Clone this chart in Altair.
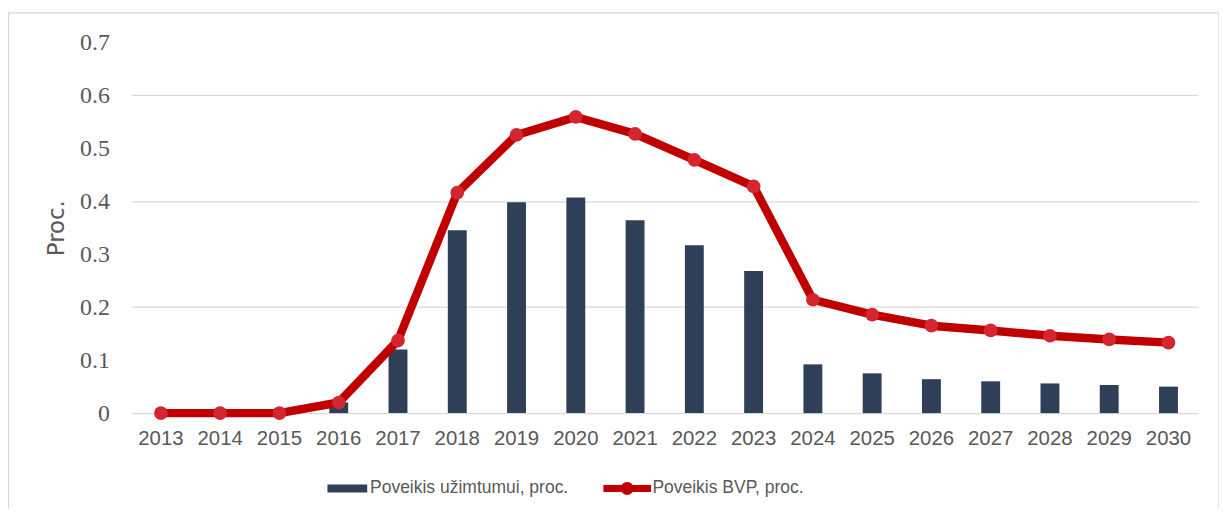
import altair as alt
import pandas as pd

years = [str(y) for y in range(2013, 2031)]
employment = [0, 0, 0, 0.02, 0.12, 0.345, 0.398, 0.407, 0.364, 0.317, 0.268,
              0.092, 0.075, 0.064, 0.06, 0.056, 0.053, 0.05]
gdp = [0, 0, 0, 0.02, 0.137, 0.416, 0.525, 0.559, 0.527, 0.478, 0.428,
       0.214, 0.186, 0.165, 0.156, 0.146, 0.139, 0.133]
y_ticks = [0, 0.1, 0.2, 0.3, 0.4, 0.5, 0.6, 0.7]

lab_bar = "Poveikis užimtumui, proc."
lab_line = "Poveikis BVP, proc."

df = pd.DataFrame({"year": years, "emp": employment, "gdp": gdp,
                   "s1": lab_bar, "s2": lab_line})

BAR = "#2E3F57"
LINE = "#C00000"
DOT = "#D42630"
GRID = "#D9D9D9"
TXT = "#595959"
SANS = "Liberation Sans, sans-serif"

x = alt.X("year:N", sort=years, title=None,
          scale=alt.Scale(paddingInner=0, paddingOuter=0),
          axis=alt.Axis(labelAngle=0, ticks=False, labelFont=SANS, labelFontSize=20.5,
                        labelColor=TXT, labelPadding=16, domainColor=GRID, domainWidth=1.3,
                        grid=False))
yscale = alt.Scale(domain=[0, 0.7], nice=False)
yaxis = alt.Axis(values=y_ticks, labelExpr="datum.value == 0 ? '0' : format(datum.value, '.1f')",
                 labelFont="Liberation Serif", labelFontSize=24, labelColor=TXT,
                 ticks=False, domain=False, labelPadding=22,
                 gridColor=GRID, gridWidth=1.3,
                 gridOpacity={"condition": {"test": "round(datum.value*10) % 2 == 0 && datum.value > 0", "value": 1}, "value": 0},
                 title="Proc.", titleFont="DejaVu Sans", titleFontSize=23, titleFontWeight="normal",
                 titleColor=TXT, titlePadding=11)

bar_path = "M-4,-0.8H4V0.8H-4Z"
line_path = ("M-4.8,-0.7H4.8V0.7H-4.8Z "
             "M-1.3,0A1.3,1.3 0 1,1 1.3,0A1.3,1.3 0 1,1 -1.3,0Z")

bars = alt.Chart(df).mark_bar(size=19).encode(
    x=x,
    y=alt.Y("emp:Q", scale=yscale, axis=yaxis),
    fill=alt.Fill("s1:N", scale=alt.Scale(domain=[lab_bar], range=[BAR]), title=None,
                  legend=alt.Legend(orient="none", legendX=208.5, legendY=440,
                                    symbolType=bar_path, symbolSize=100, labelOffset=14,
                                    labelFont=SANS, labelFontSize=17.6, labelColor=TXT,
                                    labelLimit=1000, symbolStrokeWidth=0)),
)

line = alt.Chart(df).mark_line(strokeWidth=8.5, strokeCap="round", strokeJoin="round").encode(
    x=alt.X("year:N", sort=years),
    y=alt.Y("gdp:Q", scale=yscale),
    stroke=alt.Stroke("s2:N", scale=alt.Scale(domain=[lab_line], range=[LINE]), title=None,
                      legend=alt.Legend(orient="none", legendX=490, legendY=440,
                                        symbolType=line_path, symbolSize=100, labelOffset=16.5,
                                        symbolFillColor=LINE, symbolStrokeWidth=0,
                                        labelFont=SANS, labelFontSize=17.6, labelColor=TXT,
                                        labelLimit=1000)),
)

points = alt.Chart(df).mark_circle(size=190, opacity=1, color=DOT).encode(
    x=alt.X("year:N", sort=years),
    y=alt.Y("gdp:Q", scale=yscale),
)

border = alt.Chart(pd.DataFrame({"a": [0]})).mark_rect(
    fillOpacity=0, stroke=GRID, strokeWidth=1.3
).encode(x=alt.value(-123.5), x2=alt.value(1094), y=alt.value(-29.5), y2=alt.value(480))

chart = alt.layer(border, bars, line, points).properties(
    width=1073, height=373,
    autosize=alt.AutoSizeParams(type="none"),
    padding={"left": 124, "top": 33, "right": 21, "bottom": 95},
).configure_view(stroke=None).configure_legend(padding=0)

chart.save("out.html", embed_options={"renderer": "svg", "actions": False})
